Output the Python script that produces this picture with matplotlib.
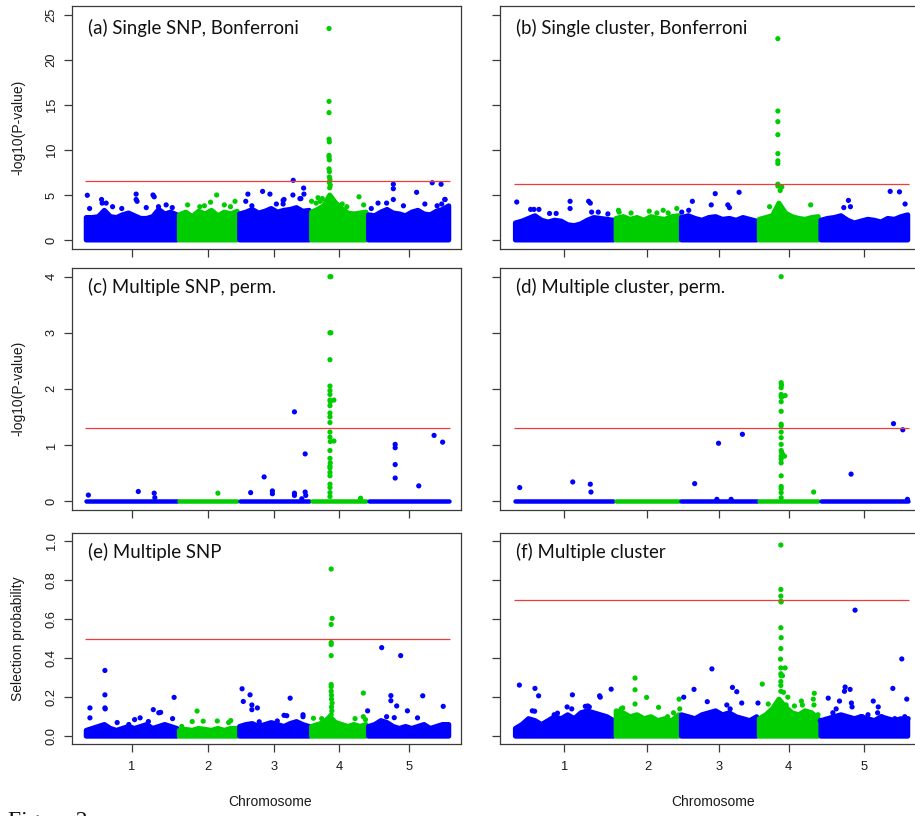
import numpy as np
import matplotlib
matplotlib.use("Agg")
import matplotlib.pyplot as plt

FIG_W, FIG_H, DPI = 915, 816, 100

# ---------------- data ----------------
chrom_labels = ["1", "2", "3", "4", "5"]
chrom_len = [30.4, 19.7, 23.5, 18.6, 27.0]          # Mb
chrom_colors = ["#0000FF", "#00CD00", "#0000FF", "#00CD00", "#0000FF"]

titles = ["(a) Single SNP, Bonferroni", "(b) Single cluster, Bonferroni",
          "(c) Multiple SNP, perm.", "(d) Multiple cluster, perm.",
          "(e) Multiple SNP", "(f) Multiple cluster"]
ylabels = ["-log10(P-value)", "-log10(P-value)", "Selection probability"]
xlabel = "Chromosome"
thresholds = [6.56, 6.26, 1.30, 1.30, 0.50, 0.70]
yticks_rows = [[0, 5, 10, 15, 20, 25], [0, 1, 2, 3, 4],
               [0.0, 0.2, 0.4, 0.6, 0.8, 1.0]]
ytick_labels_rows = [["0", "5", "10", "15", "20", "25"], ["0", "1", "2", "3", "4"],
                     ["0.0", "0.2", "0.4", "0.6", "0.8", "1.0"]]
ylims_rows = [(-1.0, 26.0), (-0.16, 4.16), (-0.04, 1.04)]

# upper edge of the dense cloud of points, per chromosome (evenly spaced along it)
band_a = [[2.5, 2.5, 2.6, 3.3, 2.6, 2.5, 2.8, 3.0, 2.7, 2.4, 2.4, 2.6, 3.4, 2.9, 3.1, 2.8],
          [2.8, 3.1, 2.6, 3.2, 2.9, 3.3, 2.7, 3.1, 2.9, 3.2],
          [2.9, 3.1, 3.4, 3.0, 3.2, 3.5, 3.1, 3.3, 3.4, 3.6, 3.2, 3.3],
          [3.1, 3.4, 3.8, 5.0, 4.1, 3.5, 3.0, 2.9, 3.0, 3.1],
          [2.8, 2.7, 3.1, 3.4, 3.0, 2.9, 2.7, 3.1, 3.3, 2.9, 2.8, 3.2, 3.4, 3.8]]
band_b = [[1.9, 2.1, 2.4, 2.7, 2.2, 2.0, 2.2, 2.1, 1.7, 1.6, 1.8, 2.2, 2.5, 2.4, 2.3, 2.2],
          [2.4, 2.6, 2.3, 2.5, 2.2, 2.6, 2.4, 2.3, 2.6, 2.7],
          [2.5, 2.7, 2.4, 2.2, 2.5, 2.6, 2.3, 2.4, 2.2, 2.5, 2.3, 2.1],
          [2.3, 2.5, 2.7, 4.1, 3.0, 2.6, 2.4, 2.3, 2.5, 2.6],
          [2.2, 2.4, 2.5, 2.7, 2.2, 1.9, 2.1, 2.3, 2.2, 2.0, 2.4, 2.3, 2.6, 2.8]]
band_c = None
band_d = None
band_e = [[0.03, 0.04, 0.05, 0.06, 0.04, 0.03, 0.04, 0.05, 0.04, 0.05, 0.06, 0.04, 0.05, 0.06, 0.05, 0.04],
          [0.03, 0.035, 0.03, 0.04, 0.035, 0.03, 0.04, 0.03, 0.04, 0.04],
          [0.05, 0.06, 0.065, 0.05, 0.06, 0.07, 0.06, 0.05, 0.065, 0.075, 0.06, 0.05],
          [0.05, 0.06, 0.07, 0.10, 0.07, 0.06, 0.05, 0.06, 0.05, 0.06],
          [0.05, 0.06, 0.08, 0.07, 0.05, 0.04, 0.05, 0.04, 0.05, 0.06, 0.04, 0.05, 0.06, 0.06]]
band_f = [[0.04, 0.06, 0.09, 0.08, 0.06, 0.08, 0.10, 0.09, 0.11, 0.09, 0.12, 0.13, 0.12, 0.11, 0.10, 0.08],
          [0.13, 0.12, 0.10, 0.11, 0.09, 0.10, 0.08, 0.09, 0.08, 0.11],
          [0.11, 0.10, 0.09, 0.11, 0.12, 0.13, 0.11, 0.12, 0.10, 0.09, 0.08, 0.10],
          [0.09, 0.11, 0.14, 0.19, 0.15, 0.12, 0.11, 0.13, 0.12, 0.09],
          [0.08, 0.09, 0.10, 0.11, 0.10, 0.09, 0.10, 0.09, 0.08, 0.10, 0.09, 0.08, 0.09, 0.08]]

# individual points standing out of the cloud (cumulative position in Mb, value)
a_x = [0.75, 1.5, 5.4, 5.6, 6.9, 16.7, 16.7, 17.0, 22.2, 22.6, 24.0,
       9.0, 12.0, 20.0, 26.5, 28.5,
       43.0, 41.0, 49.0, 37.5, 33.5, 39.0, 45.5, 47.5,
       58.0, 60.4, 53.2, 68.0, 67.9, 71.4, 71.5, 70.5, 52.5, 65.0,
       64.7, 64.7, 70.2, 54.5, 62.5,
       79.7, 79.7, 79.7, 79.7, 79.8, 79.7, 79.7, 79.8, 79.7, 79.8, 79.8, 80.0, 79.8, 80.1, 79.9,
       89.5, 75.5, 77.5, 74.0, 76.1, 76.8, 85.5, 84.0, 91.0,
       100.7, 100.7, 100.7, 108.3, 113.4, 116.3, 117.5,
       93.5, 95.7, 98.5, 104.0, 111.0, 115.0, 116.5, 117.6]
a_y = [4.97, 3.5, 4.5, 4.1, 4.1, 5.1, 4.5, 4.3, 5.0, 4.8, 3.7,
       3.7, 3.5, 3.6, 3.9, 3.6,
       5.0, 4.2, 4.3, 3.7, 3.9, 3.8, 3.9, 3.7,
       5.4, 5.1, 5.1, 6.63, 5.0, 5.77, 5.1, 4.6, 4.3, 4.5,
       4.4, 4.0, 4.6, 3.8, 4.0,
       23.5, 15.4, 14.15, 11.2, 10.9, 9.4, 9.2, 8.9, 7.9, 7.6, 7.0, 6.7, 6.4, 6.1, 5.8,
       4.8, 4.1, 4.6, 4.3, 4.7, 4.3, 3.7, 4.0, 3.9,
       6.2, 5.7, 4.5, 5.3, 6.36, 6.2, 4.5,
       3.5, 4.1, 4.1, 3.8, 4.0, 3.8, 4.0, 4.5]

b_x = [0.8, 16.9, 16.9, 22.5, 23.0, 6.0, 7.5,
       5.0, 10.7, 12.7, 23.4, 25.4, 28.3,
       31.5, 45.0, 49.1, 31.7, 35.3, 40.8, 43.1, 46.5,
       60.7, 67.9, 53.8, 59.5, 64.5, 65.0, 50.6, 52.7,
       79.6, 79.6, 79.6, 79.6, 79.6, 79.6, 79.6, 79.6, 79.6, 80.8, 80.3, 89.5, 77.1,
       100.9, 113.5, 116.3, 118.0, 99.5, 101.5]
b_y = [4.22, 4.3, 3.5, 4.3, 4.1, 3.4, 3.4,
       3.4, 2.95, 2.95, 3.1, 3.1, 2.9,
       3.3, 3.3, 3.5, 3.1, 3.0, 3.2, 3.0, 3.0,
       5.15, 5.3, 4.3, 3.9, 3.9, 3.6, 3.1, 3.3,
       22.37, 14.33, 13.15, 11.7, 9.6, 8.8, 8.5, 6.2, 6.0, 5.9, 5.5, 3.9, 3.7,
       4.4, 5.4, 5.35, 4.0, 3.6, 3.7]

c_x = [1.1, 17.4, 22.6, 22.8, 54.1, 58.5, 61.2, 61.2, 68.4, 68.4, 68.4, 70.8, 71.9, 71.9, 72.1,
       101.3, 101.3, 101.3, 101.3, 109.0, 114.0, 116.8,
       43.4, 90.0,
       80.0, 80.3, 80.0, 80.3, 80.0, 80.0, 80.0, 80.0, 80.0, 80.1, 80.0, 80.0, 80.0, 80.0,
       80.0, 80.0, 80.1, 80.0, 80.0, 80.1, 80.0, 80.0, 80.0, 80.0, 80.0, 80.0, 80.0, 80.0,
       81.3, 81.3]
c_y = [0.106, 0.17, 0.14, 0.06, 0.15, 0.43, 0.18, 0.13, 1.59, 0.14, 0.10, 0.04, 0.84, 0.16, 0.10,
       1.01, 0.95, 0.65, 0.41, 0.27, 1.17, 1.05,
       0.14, 0.05,
       4.0, 4.0, 3.0, 3.0, 2.52, 2.05, 1.97, 1.9, 1.8, 1.77, 1.7, 1.57, 1.5, 1.4,
       1.23, 1.14, 1.06, 0.9, 0.76, 0.68, 0.62, 0.59, 0.51, 0.45, 0.3, 0.24, 0.15, 0.08,
       1.8, 1.07]

d_x = [1.7, 17.7, 23.0, 23.2, 54.5, 61.7, 68.9, 61.2, 65.5, 101.7, 114.5, 117.3, 118.7,
       80.6, 80.6, 80.7, 80.6, 80.6, 80.6, 80.7, 80.6, 80.6, 80.6, 80.6, 80.6, 80.6, 80.6,
       80.6, 80.7, 80.6, 80.6, 80.6, 80.6, 80.6, 80.6, 80.6, 80.6,
       81.8, 81.6, 81.0, 90.4]
d_y = [0.24, 0.34, 0.30, 0.16, 0.31, 1.03, 1.19, 0.03, 0.03, 0.48, 1.38, 1.27, 0.03,
       4.0, 2.11, 2.07, 2.02, 1.9, 1.87, 1.85, 1.77, 1.6, 1.37, 1.34, 1.23, 1.13, 1.01,
       0.9, 0.87, 0.80, 0.75, 0.68, 0.45, 0.26, 0.22, 0.15, 0.06,
       1.88, 0.80, 0.84, 0.16]

e_x = [1.6, 1.6, 6.5, 6.5, 6.5, 6.6, 29.1, 22.3, 24.1, 24.7, 18.0, 16.2, 20.7, 14.3, 10.5, 28.6,
       36.6, 31.6, 35.0, 38.6, 43.2, 47.6, 46.9,
       51.3, 51.7, 53.9, 54.5, 54.5, 56.3, 56.9, 67.0, 65.0, 65.9, 71.2, 71.2, 62.8,
       80.4, 80.7, 80.4, 80.4, 80.4, 80.4, 80.4, 80.4, 80.4, 80.5, 80.5, 80.7, 80.5, 80.6, 80.4,
       90.9, 92.3, 90.9, 91.6, 74.6, 77.3, 88.2,
       96.9, 103.1, 99.9, 99.9, 101.8, 105.3, 110.3, 108.6, 117.0, 98.5, 101.0]
e_y = [0.145, 0.094, 0.337, 0.212, 0.145, 0.14, 0.199, 0.136, 0.12, 0.122, 0.094, 0.085, 0.075, 0.06, 0.07, 0.09,
       0.129, 0.05, 0.075, 0.077, 0.078, 0.08, 0.07,
       0.243, 0.178, 0.212, 0.16, 0.136, 0.145, 0.074, 0.195, 0.107, 0.105, 0.11, 0.10, 0.078,
       0.857, 0.604, 0.573, 0.48, 0.47, 0.413, 0.265, 0.254, 0.23, 0.21, 0.19, 0.17, 0.15, 0.13, 0.11,
       0.221, 0.13, 0.10, 0.085, 0.092, 0.09, 0.09,
       0.454, 0.413, 0.208, 0.182, 0.155, 0.13, 0.207, 0.094, 0.153, 0.10, 0.095]

f_x = [1.6, 6.3, 7.4, 17.6, 29.3, 25.8, 26.0, 16.0, 17.4, 5.5, 6.2, 13.1, 12.1, 22.2, 21.5, 22.7,
       36.5, 36.5, 36.5, 40.0, 49.8, 50.0, 43.6, 48.1, 46.3, 32.3, 32.8,
       51.2, 54.3, 59.7, 58.3, 65.9, 67.2, 68.7, 64.2, 65.2, 73.6,
       80.5, 80.5, 80.5, 80.5, 80.6, 80.5, 80.6, 80.5, 80.4, 80.5, 80.5, 80.6, 80.5, 80.5, 80.5,
       81.8, 81.0, 81.3, 82.6, 74.9, 76.7, 86.7, 87.0, 90.6, 90.3, 90.5, 91.7, 92.4, 82.1, 84.6,
       102.9, 117.0, 99.9, 101.4, 99.7, 114.3, 94.8, 118.5, 98.2, 101.8, 102.0, 108.4, 109.9,
       109.7, 97.2, 96.2, 105.1, 106.8, 104.7, 110.9, 114.9, 118.9, 117.9]
f_y = [0.262, 0.245, 0.207, 0.212, 0.241, 0.207, 0.20, 0.15, 0.14, 0.13, 0.128, 0.118, 0.11, 0.155, 0.153, 0.15,
       0.298, 0.238, 0.165, 0.199, 0.19, 0.14, 0.148, 0.12, 0.10, 0.14, 0.145,
       0.2, 0.24, 0.345, 0.177, 0.25, 0.228, 0.17, 0.16, 0.14, 0.17,
       0.98, 0.752, 0.718, 0.692, 0.688, 0.556, 0.505, 0.449, 0.395, 0.35, 0.32, 0.31, 0.28, 0.26, 0.23,
       0.35, 0.31, 0.225, 0.20, 0.267, 0.165, 0.18, 0.16, 0.22, 0.19, 0.16, 0.11, 0.08, 0.16, 0.155,
       0.646, 0.396, 0.252, 0.24, 0.23, 0.245, 0.195, 0.19, 0.18, 0.17, 0.15, 0.18, 0.15,
       0.12, 0.14, 0.12, 0.10, 0.11, 0.10, 0.10, 0.09, 0.09, 0.10]

panels = [(band_a, a_x, a_y), (band_b, b_x, b_y), (band_c, c_x, c_y),
          (band_d, d_x, d_y), (band_e, e_x, e_y), (band_f, f_x, f_y)]

# ---------------- layout (pixels) ----------------
col_px = [(72, 461), (500, 921)]
row_px = [(6, 249), (267.7, 510), (533.3, 744)]
title_off = [22, 19, 18.5]
XLIM = (-4.25, 122.8)

plt.rcParams["font.family"] = ["Liberation Sans", "DejaVu Sans"]

fig = plt.figure(figsize=(FIG_W / DPI, FIG_H / DPI), dpi=DPI)
fig.patch.set_facecolor("white")

starts = np.concatenate([[0.0], np.cumsum(chrom_len)[:-1]])
ends = np.cumsum(chrom_len)
centers = starts + np.array(chrom_len) / 2.0
total = ends[-1]

PT_PER_PX = 72.0 / DPI
CLOUD_LW = 5.0 * PT_PER_PX
DOT_S = (5.2 * PT_PER_PX) ** 2
SPINE_C = "#3a3a3a"

for i, (band, px_, py_) in enumerate(panels):
    r, c = divmod(i, 2)
    x0, x1 = col_px[c]
    y0, y1 = row_px[r]
    ax = fig.add_axes([x0 / FIG_W, 1 - y1 / FIG_H, (x1 - x0) / FIG_W, (y1 - y0) / FIG_H])
    ax.set_xlim(*XLIM)
    ax.set_ylim(*ylims_rows[r])

    for k in range(5):
        col = chrom_colors[k]
        if band is not None:
            env = np.array(band[k])
            xs = np.linspace(starts[k] + 0.4, ends[k] - 0.4, len(env))
            polx = np.concatenate([[xs[0]], xs, [xs[-1]]])
            poly = np.concatenate([[0.0], env, [0.0]])
            ax.fill(polx, poly, facecolor=col, edgecolor=col, lw=CLOUD_LW,
                    joinstyle="round", zorder=2)
        else:
            ax.plot([starts[k] + 0.4, ends[k] - 0.4], [0, 0], color=col,
                    lw=CLOUD_LW * 0.9, solid_capstyle="round", zorder=2)

    px_ = np.array(px_)
    py_ = np.array(py_)
    idx = np.clip(np.searchsorted(ends, px_), 0, 4)
    cols = [chrom_colors[j] for j in idx]
    ax.scatter(px_, py_, s=DOT_S, c=cols, linewidths=0, zorder=3)

    ax.hlines(thresholds[i], 0, total, colors="#f23a3a", lw=0.9, zorder=4)

    for sp in ax.spines.values():
        sp.set_color(SPINE_C)
        sp.set_linewidth(0.9)

    ax.set_xticks(centers)
    ax.set_yticks(yticks_rows[r])
    ax.tick_params(axis="both", direction="out", length=5.8, width=0.9,
                   color=SPINE_C, labelsize=9.3, labelcolor="#1a1a1a")
    ax.tick_params(axis="y", pad=4.5)
    ax.tick_params(axis="x", pad=6.5)
    if r == 2:
        ax.set_xticklabels(chrom_labels)
    else:
        ax.set_xticklabels([])
    if c == 0:
        ax.set_yticklabels(ytick_labels_rows[r], rotation=90, va="center")
    else:
        ax.set_yticklabels([])

    ax.annotate(titles[i], xy=(0, 1), xycoords="axes fraction",
                xytext=(16, -title_off[r]), textcoords="offset pixels",
                ha="left", va="center", fontsize=13.4, family=["Lato", "DejaVu Sans"],
                color="#111111", zorder=5)

# axis labels
for r in range(3):
    y0, y1 = row_px[r]
    fig.text(18 / FIG_W, 1 - ((y0 + y1) / 2) / FIG_H, ylabels[r], rotation=90,
             ha="center", va="center", fontsize=10, color="#1a1a1a")
for cx in (269.7, 713.3):
    fig.text(cx / FIG_W, 1 - 801.7 / FIG_H, xlabel, ha="center", va="center",
             fontsize=10, color="#1a1a1a")

fig.text(8 / FIG_W, 1 - 827 / FIG_H, "Figure 2", ha="left", va="baseline",
         fontsize=17, family=["Liberation Serif", "DejaVu Serif"], color="#111111")

fig.savefig("out.png", dpi=DPI, facecolor="white")
